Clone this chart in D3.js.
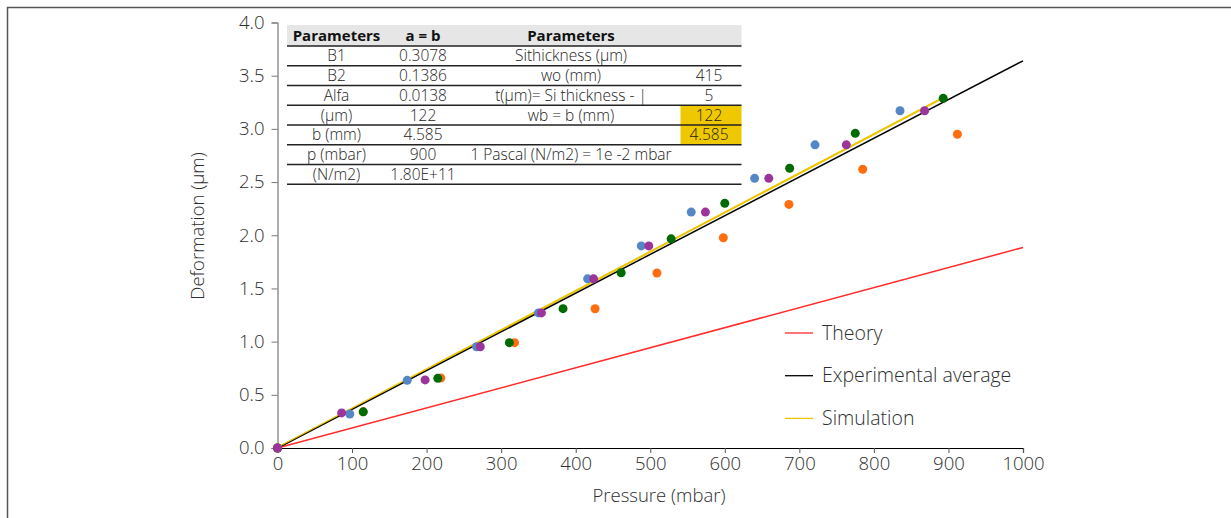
<!DOCTYPE html>
<html>
<head>
<meta charset="utf-8">
<script src="https://cdn.jsdelivr.net/npm/d3@7"></script>
<style>
  html, body { margin: 0; padding: 0; background: #fff; }
  svg { display: block; font-family: "Open Sans", sans-serif; font-weight: 300; }
</style>
</head>
<body>
<svg id="chart" width="1231" height="518"></svg>
<script>
// measured series (pressure mbar, deformation um)
const seriesBlue = [[0,0],[97,0.32],[174,0.636],[267,0.952],[350,1.27],[416,1.59],[488,1.90],[555,2.218],[640,2.535],[721,2.85],[835,3.17]];
const seriesOrange = [[0,0],[115,0.34],[219,0.658],[318,0.99],[426,1.309],[509,1.645],[598,1.977],[686,2.29],[785,2.62],[912,2.95]];
const seriesGreen = [[0,0],[115,0.34],[215,0.655],[311,0.99],[383,1.31],[461,1.648],[528,1.966],[600,2.30],[687,2.63],[775,2.958],[893,3.287]];
const seriesPurple = [[0,0],[86,0.33],[198,0.64],[272,0.952],[354,1.27],[424,1.59],[498,1.90],[574,2.218],[659,2.535],[763,2.85],[868,3.17]];

const theory = [[0,0],[1000,1.885]];
const experimental = [[0,0],[1000,3.64]];
const simulation = [[0,0],[893,3.29]];

const xTicks = [0,100,200,300,400,500,600,700,800,900,1000];
const yTicks = [0,0.5,1,1.5,2,2.5,3,3.5,4];

const tableHeader = ["Parameters", "a = b", "Parameters", ""];
const tableRows = [
  ["B1", "0.3078", "Sithickness (µm)", ""],
  ["B2", "0.1386", "wo (mm)", "415"],
  ["Alfa", "0.0138", "t(µm)= Si thickness - |", "5"],
  ["(µm)", "122", "wb = b (mm)", "122"],
  ["b (mm)", "4.585", "", "4.585"],
  ["p (mbar)", "900", "1 Pascal (N/m2) = 1e -2 mbar", ""],
  ["(N/m2)", "1.80E+11", "", ""]
];
const highlightRows = [3, 4];

const legendItems = [
  { name: "Theory", color: "#ff2a2a" },
  { name: "Experimental average", color: "#000000" },
  { name: "Simulation", color: "#ecc400" }
];

const svg = d3.select("#chart");
const textColor = "#2e2e2e";

// outer frame
svg.append("rect")
  .attr("x", 7.5).attr("y", 7.5)
  .attr("width", 1240).attr("height", 530)
  .attr("fill", "none")
  .attr("stroke", "#555")
  .attr("stroke-width", 1.5);

const x = d3.scaleLinear().domain([0, 1000]).range([277.5, 1023]);
const y = d3.scaleLinear().domain([0, 4]).range([448, 22.5]);

// y axis
const yAxis = svg.append("g")
  .attr("transform", "translate(" + x(0) + ",0)")
  .call(d3.axisLeft(y).tickValues(yTicks).tickFormat(d3.format(".1f")).tickSize(6).tickPadding(7));
yAxis.select(".domain").attr("stroke", "#777").attr("stroke-width", 1.2);
yAxis.selectAll(".tick line").attr("stroke", "#777");
yAxis.selectAll("text")
  .attr("fill", textColor)
  .style("font-size", "18.5px")
  .style("font-family", "Open Sans")
  .style("font-weight", 300);

// x axis
const xAxis = svg.append("g")
  .attr("transform", "translate(0," + y(0) + ")")
  .call(d3.axisBottom(x).tickValues(xTicks).tickFormat(d3.format("d")).tickSize(5).tickPadding(4).tickSizeOuter(5));
xAxis.select(".domain").attr("stroke", "#000").attr("stroke-width", 1.2);
xAxis.selectAll(".tick line").attr("stroke", "#555");
xAxis.selectAll("text")
  .attr("fill", textColor)
  .style("font-size", "18.5px")
  .style("font-family", "Open Sans")
  .style("font-weight", 300);

svg.append("text")
  .attr("x", 659).attr("y", 502)
  .attr("text-anchor", "middle")
  .attr("fill", textColor)
  .style("font-size", "18.5px")
  .text("Pressure (mbar)");

svg.append("text")
  .attr("transform", "translate(204,226) rotate(-90)")
  .attr("text-anchor", "middle")
  .attr("fill", textColor)
  .style("font-size", "18.5px")
  .text("Deformation (µm)");

// parameter table
const tableLeft = 287, tableRight = 741.5;
const colCenters = [336.5, 423, 571, 709];
const headerTop = 25, rowH = 19.75, headerH = 21;

svg.append("rect")
  .attr("x", tableLeft).attr("y", headerTop)
  .attr("width", tableRight - tableLeft).attr("height", headerH)
  .attr("fill", "#e6e6e6");

highlightRows.forEach(function(r) {
  svg.append("rect")
    .attr("x", 680.5).attr("y", headerTop + headerH + r * rowH)
    .attr("width", tableRight - 680.5).attr("height", rowH)
    .attr("fill", "#efc800");
});

svg.append("g").selectAll("text")
  .data(tableHeader)
  .enter().append("text")
  .attr("x", (d, i) => colCenters[i])
  .attr("y", headerTop + 16)
  .attr("text-anchor", "middle")
  .attr("fill", "#111")
  .style("font-size", "15px")
  .style("font-weight", "bold")
  .text(d => d);

const rows = svg.append("g").selectAll("g")
  .data(tableRows)
  .enter().append("g")
  .attr("transform", (d, i) => "translate(0," + (headerTop + headerH + i * rowH) + ")");

rows.append("line")
  .attr("x1", tableLeft).attr("x2", tableRight)
  .attr("y1", rowH).attr("y2", rowH)
  .attr("stroke", "#222").attr("stroke-width", 1.3);

rows.selectAll("text")
  .data(d => d)
  .enter().append("text")
  .attr("x", (d, i) => colCenters[i])
  .attr("y", rowH - 4.5)
  .attr("text-anchor", "middle")
  .attr("fill", "#222")
  .style("font-size", "15.5px")
  .text(d => d);

svg.append("line")
  .attr("x1", tableLeft).attr("x2", tableRight)
  .attr("y1", headerTop + headerH).attr("y2", headerTop + headerH)
  .attr("stroke", "#222").attr("stroke-width", 1.3);

// lines
const line = d3.line().x(d => x(d[0])).y(d => y(d[1]));
[[theory, "#ff2a2a"], [simulation, "#ecc400"], [experimental, "#000"]].forEach(function(s) {
  svg.append("path")
    .datum(s[0])
    .attr("d", line)
    .attr("fill", "none")
    .attr("stroke", s[1])
    .attr("stroke-width", 1.5);
});
// simulation drawn again on top where it sits above the average
svg.append("path")
  .datum(simulation)
  .attr("d", line)
  .attr("fill", "none")
  .attr("stroke", "#ecc400")
  .attr("stroke-width", 1.2)
  .attr("transform", "translate(0,-0.8)");

// points
[[seriesBlue, "#5587c6"], [seriesOrange, "#ff6e0e"], [seriesGreen, "#006b00"], [seriesPurple, "#9b349b"]].forEach(function(s) {
  svg.append("g").selectAll("circle")
    .data(s[0])
    .enter().append("circle")
    .attr("cx", d => x(d[0]))
    .attr("cy", d => y(d[1]))
    .attr("r", 4.5)
    .attr("fill", s[1]);
});

// legend
const legend = svg.append("g").selectAll("g")
  .data(legendItems)
  .enter().append("g")
  .attr("transform", (d, i) => "translate(785," + (333 + i * 42.7) + ")");
legend.append("line")
  .attr("x1", 0).attr("x2", 28)
  .attr("stroke", d => d.color)
  .attr("stroke-width", 1.3);
legend.append("text")
  .attr("x", 37).attr("y", 6.5)
  .attr("fill", textColor)
  .style("font-size", "19.5px")
  .text(d => d.name);
</script>
</body>
</html>
